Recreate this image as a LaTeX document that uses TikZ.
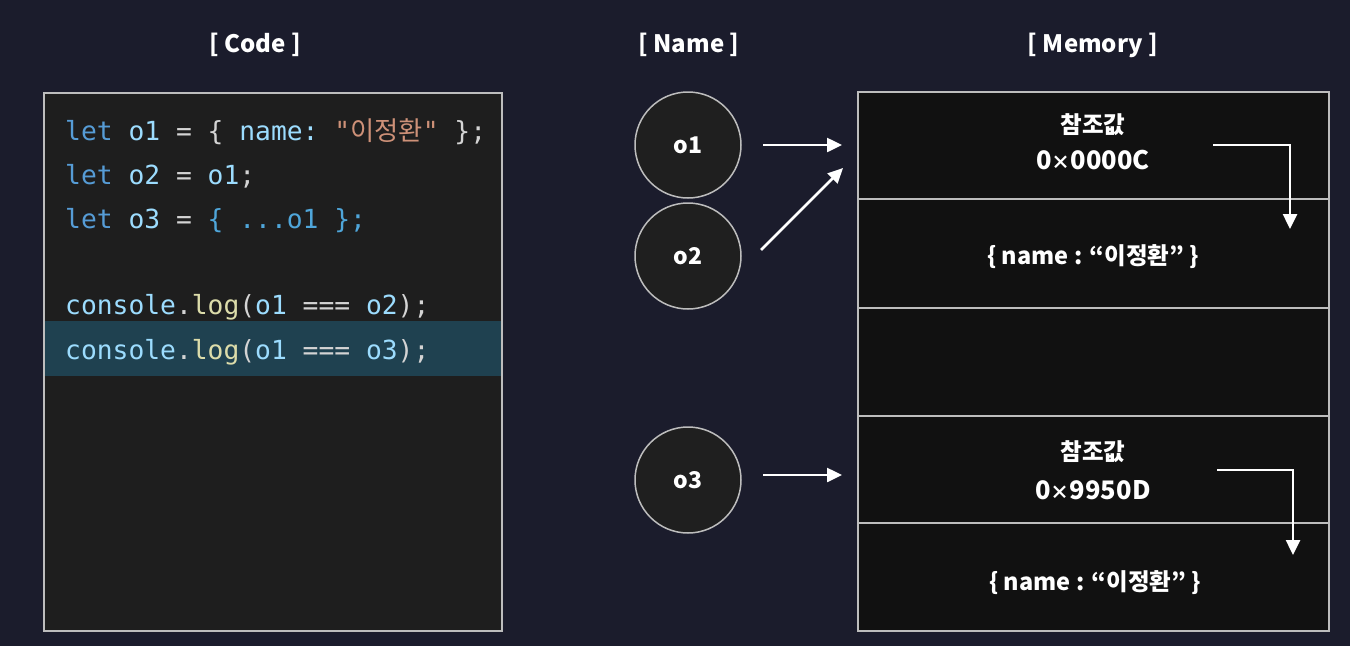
\documentclass[tikz,border=0pt]{standalone}
\usepackage{fontspec}
\usetikzlibrary{arrows.meta}
\setmainfont{Noto Sans CJK KR}
\setmonofont{DejaVu Sans Mono}
\newfontfamily\cjk{Noto Sans CJK KR}
\definecolor{bgc}{HTML}{1B1C2C}
\definecolor{codebg}{HTML}{1E1E1E}
\definecolor{hl}{HTML}{1F4150}
\definecolor{kw}{HTML}{569CD6}
\definecolor{idc}{HTML}{9CDCFE}
\definecolor{strc}{HTML}{CE9178}
\definecolor{fnc}{HTML}{DCDCAA}
\definecolor{pun}{HTML}{D4D4D4}
\definecolor{blu}{HTML}{4FA6DA}
\definecolor{memfill}{HTML}{111111}
\definecolor{edge}{HTML}{BDBDBD}
\definecolor{circfill}{HTML}{1F1F1F}
\tikzset{
  head/.style={text=white, font=\bfseries\fontsize{24}{27}\selectfont},
  codeline/.style={anchor=base west, inner sep=0pt, font=\ttfamily\fontsize{26.3}{29}\selectfont},
  namecirc/.style={circle, draw=edge, line width=1.5pt, fill=circfill, minimum size=106pt, text=white, font=\bfseries\fontsize{23}{26}\selectfont},
  cell/.style={draw=edge, line width=1.5pt, fill=memfill, minimum width=471pt, inner sep=0pt},
  memtxt/.style={text=white, font=\bfseries\fontsize{23.5}{26}\selectfont, inner sep=0pt},
  addr/.style={text=white, font=\bfseries\fontsize{25.5}{28}\selectfont, inner sep=0pt},
  arr/.style={draw=white, line width=2.5pt, -{Triangle[length=15pt,width=14pt]}}
}
\begin{document}
\begin{tikzpicture}[x=1pt,y=-1pt]
\fill[bgc] (0,0) rectangle (1350,646);
\useasboundingbox (0,0) rectangle (1350,646);
% headers
\node[head] (hcode) at (255,45) {[ Code ]};
\node[head] (hname) at (689,45) {[ Name ]};
\node[head] (hmem) at (1093,45) {[ Memory ]};
% code box
\node[draw=edge, line width=1.5pt, fill=codebg, minimum width=458pt, minimum height=538pt, inner sep=0pt] (codebox) at (273,362) {};
\fill[hl] (45,321) rectangle (501,376);
\node[codeline] (l1) at (65,140) {\textcolor{kw}{let} \textcolor{idc}{o1} \textcolor{pun}{= \{} \textcolor{idc}{name:} \textcolor{strc}{"{\cjk 이정환}"} \textcolor{pun}{\};}};
\node[codeline] (l2) at (65,184) {\textcolor{kw}{let} \textcolor{idc}{o2} \textcolor{pun}{=} \textcolor{idc}{o1}\textcolor{pun}{;}};
\node[codeline] (l3) at (65,228) {\textcolor{kw}{let} \textcolor{idc}{o3} \textcolor{pun}{=} \textcolor{blu}{\{ ...o1 \};}};
\node[codeline] (l4) at (65,314) {\textcolor{idc}{console}\textcolor{pun}{.}\textcolor{fnc}{log}\textcolor{pun}{(}\textcolor{idc}{o1} \textcolor{pun}{===} \textcolor{idc}{o2}\textcolor{pun}{);}};
\node[codeline] (l5) at (65,359) {\textcolor{idc}{console}\textcolor{pun}{.}\textcolor{fnc}{log}\textcolor{pun}{(}\textcolor{idc}{o1} \textcolor{pun}{===} \textcolor{idc}{o3}\textcolor{pun}{);}};
% name circles
\node[namecirc] (o1n) at (688,145) {o1};
\node[namecirc] (o2n) at (688,256) {o2};
\node[namecirc] (o3n) at (688,480) {o3};
% memory cells
\node[cell, minimum height=107pt] (m1) at (1093.5,145.5) {};
\node[cell, minimum height=109pt] (m2) at (1093.5,253.5) {};
\node[cell, minimum height=108pt] (m3) at (1093.5,362) {};
\node[cell, minimum height=107pt] (m4) at (1093.5,469.5) {};
\node[cell, minimum height=108pt] (m5) at (1093.5,577) {};
\node[memtxt] (r1) at (1093,125) {참조값};
\node[addr] (a1) at (1093,160) {0{\fontsize{19}{20}\selectfont ×}0000C};
\node[memtxt] (v1) at (1093,257) {\{ name : “이정환” \}};
\node[memtxt] (r2) at (1093,452) {참조값};
\node[addr] (a2) at (1093,490) {0{\fontsize{19}{20}\selectfont ×}9950D};
\node[memtxt] (v2) at (1095,583) {\{ name : “이정환” \}};
% arrows
\coordinate (s1) at (763,145); \coordinate (e1) at (842,145);
\coordinate (s2) at (761,250); \coordinate (e2) at (843,168);
\coordinate (s3) at (763,475); \coordinate (e3) at (842,475);
\draw[arr] (s1) -- (e1);
\draw[arr] (s2) -- (e2);
\draw[arr] (s3) -- (e3);
\coordinate (b1s) at (1213,145); \coordinate (b1e) at (1290,229);
\coordinate (b2s) at (1217,470); \coordinate (b2e) at (1293,555);
\draw[arr] (b1s) -| (b1e);
\draw[arr] (b2s) -| (b2e);
\end{tikzpicture}
\end{document}
